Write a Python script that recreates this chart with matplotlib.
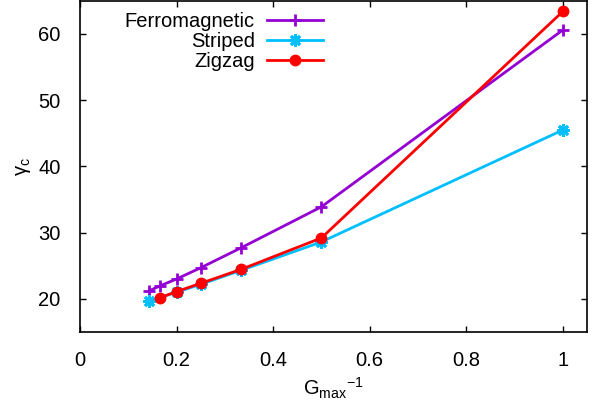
import matplotlib
matplotlib.use("Agg")
import matplotlib.pyplot as plt

plt.rcParams['font.family'] = ['Liberation Sans', 'DejaVu Sans']
plt.rcParams['mathtext.fontset'] = 'custom'
plt.rcParams['mathtext.rm'] = 'Liberation Sans'
plt.rcParams['mathtext.it'] = 'Liberation Sans'

x_ferro = [1/7, 1/6, 0.2, 0.25, 1/3, 0.5, 1.0]
y_ferro = [21.2, 22.0, 23.0, 24.7, 27.7, 33.9, 60.6]
x_striped = [1/7, 0.2, 0.25, 1/3, 0.5, 1.0]
y_striped = [19.7, 21.0, 22.2, 24.3, 28.6, 45.5]
x_zigzag = [1/6, 0.2, 0.25, 1/3, 0.5, 1.0]
y_zigzag = [20.2, 21.1, 22.35, 24.45, 29.2, 63.4]
xticks = [0, 0.2, 0.4, 0.6, 0.8, 1]
xticklabels = ['0', '0.2', '0.4', '0.6', '0.8', '1']
yticks = [20, 30, 40, 50, 60]

FS = 14.5

fig = plt.figure(figsize=(5.98, 4.09), dpi=100)
ax = fig.add_axes([80/598, 1 - 332/409, 507/598, 332/409 - 0.002])

ax.plot(x_ferro, y_ferro, color='#9400D3', lw=2, marker='+', ms=8, mew=2, label='Ferromagnetic')
ax.plot(x_striped, y_striped, color='#00BFFF', lw=2, marker=(8, 2, 0), ms=9, mew=2, label='Striped')
ax.plot(x_zigzag, y_zigzag, color='#FF0000', lw=2, marker='o', ms=7.5, label='Zigzag')

ax.set_xlim(0, 1.05)
ax.set_ylim(15, 65)
ax.set_xticks(xticks)
ax.set_xticklabels(xticklabels)
ax.set_yticks(yticks)
ax.tick_params(direction='in', top=True, right=True, labelsize=FS, length=4, width=1)
ax.tick_params(axis='x', pad=14)
ax.tick_params(axis='y', pad=14)
for s in ax.spines.values():
    s.set_linewidth(1.2)

ax.set_xlabel(r'$\mathrm{G_{max}}^{\mathrm{-1}}$', fontsize=FS, labelpad=4)
ax.set_ylabel(r'$\gamma_{\mathrm{c}}$', fontsize=FS, labelpad=4)

leg = ax.legend(loc='upper left', bbox_to_anchor=(0.06, 1.01), markerfirst=False, frameon=False,
                fontsize=FS, handlelength=2.8, borderpad=0.2, labelspacing=0.05, handletextpad=0.6)
for t in leg.get_texts():
    t.set_ha('right')
    t.set_position((0, 0))

fig.savefig('out.png', dpi=100)
